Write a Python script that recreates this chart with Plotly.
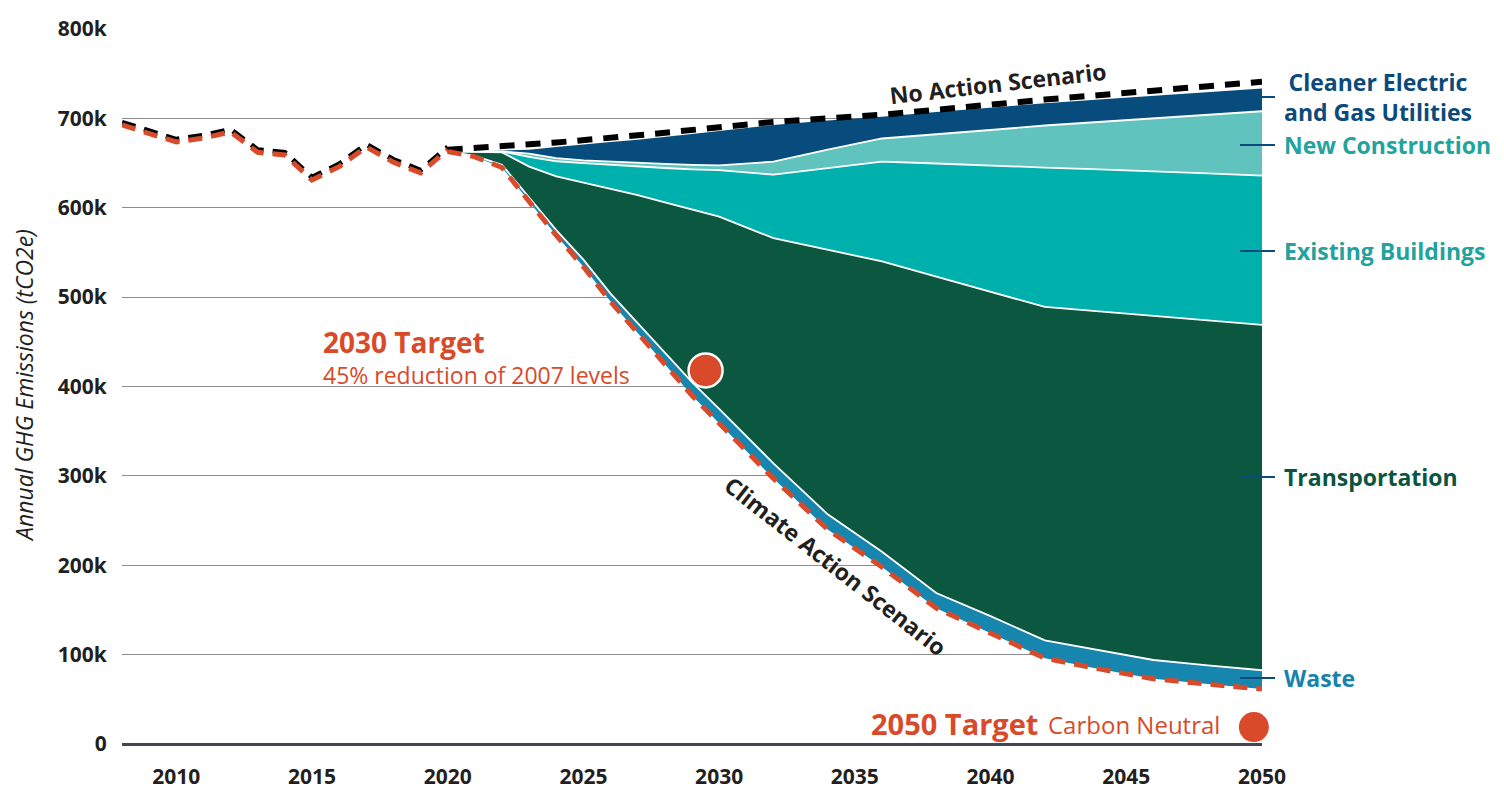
import plotly.graph_objects as go

# ---------------- data (thousand tCO2e) ----------------
HIST_YEARS = [2008, 2009, 2010, 2011, 2012, 2013, 2014, 2015, 2016, 2017, 2018, 2019, 2020]
HIST = [692.6, 683, 673.6, 678, 684.8, 662, 659, 631, 646, 668, 651, 639, 665]

PROJ_YEARS = [2020, 2021, 2022, 2023, 2024, 2025, 2026, 2027, 2028, 2029, 2030,
              2032, 2034, 2036, 2038, 2040, 2042, 2044, 2046, 2048, 2050]
CLIMATE_ACTION = [663, 657, 645, 607, 569, 534, 495, 460, 425, 390, 359,
                  297, 240, 198, 152, 124, 96, 84, 73, 67, 61.5]
WASTE = [0, 1, 3, 5, 6, 8, 9, 11, 13, 15, 16,
         17, 17, 17, 17, 19, 20, 21, 21, 21, 21]
TRANSPORTATION = [0, 4.5, 14, 34, 60, 86, 117, 143, 168, 193, 215,
                  252, 296, 325, 354, 363, 373, 379, 385, 386, 386.5]
EXISTING_BUILDINGS = [0, 0.5, 1, 11, 17, 22, 27, 32, 38.5, 45, 52,
                      71, 91, 111.5, 126.5, 141, 156, 159, 162, 164.5, 167]
NEW_CONSTRUCTION = [0, 0, 0, 3.5, 3.5, 3, 3.5, 4.5, 4.5, 5, 5.5,
                    14.5, 21, 26, 32.5, 40, 47, 53, 59, 65.5, 72]
UTILITIES = [0, 0, 1, 4.5, 12.5, 18, 22, 25.5, 30, 34.5, 38.5,
             41, 32.5, 24.3, 25, 25, 25, 25, 25, 25, 25.5]

NO_ACTION_YEARS = [2020, 2022, 2024, 2027, 2030, 2032, 2036, 2042, 2050]
NO_ACTION = [665, 669, 673, 681, 690, 696, 704, 721, 741]

TARGET_2030 = (2029.5, 418)
TARGET_2050 = (2049.7, 19)

X_TICKS = [2010, 2015, 2020, 2025, 2030, 2035, 2040, 2045, 2050]
X_TICK_TEXT = ["2010", "2015", "2020", "2025", "2030", "2035", "2040", "2045", "2050"]
Y_TICKS = [0, 100, 200, 300, 400, 500, 600, 700, 800]
Y_TICK_TEXT = ["0", "100k", "200k", "300k", "400k", "500k", "600k", "700k", "800k"]

# ---------------- style ----------------
FONT = "Open Sans"
RED = "#d84a2a"
NAVY = "#074c7d"
LIGHT_TEAL = "#60c3bd"
TEAL = "#00b0ac"
GREEN = "#0b5740"
WASTE_BLUE = "#1786ae"
DARK = "#231f20"
SHADOW = 3  # vertical offset of black shadow under historic line

L, R, T, B = 122, 1262, 29, 744
W, H = 1504, 791


def xp(px):
    return (px - L) / (R - L)


def yp(py):
    return (B - py) / (B - T)


fig = go.Figure()

# stacked areas
fig.add_trace(go.Scatter(x=PROJ_YEARS, y=CLIMATE_ACTION, stackgroup="s", mode="lines",
                         line=dict(width=0), fillcolor="rgba(0,0,0,0)", hoverinfo="skip"))
layers = [
    (WASTE, WASTE_BLUE, "Waste"),
    (TRANSPORTATION, GREEN, "Transportation"),
    (EXISTING_BUILDINGS, TEAL, "Existing Buildings"),
    (NEW_CONSTRUCTION, LIGHT_TEAL, "New Construction"),
]
for vals, col, name in layers:
    fig.add_trace(go.Scatter(x=PROJ_YEARS, y=vals, stackgroup="s", mode="lines", name=name,
                             line=dict(width=1.8, color="white"), fillcolor=col))
fig.add_trace(go.Scatter(x=PROJ_YEARS, y=UTILITIES, stackgroup="s", mode="lines",
                         name="Cleaner Electric and Gas Utilities",
                         line=dict(width=0, color=NAVY), fillcolor=NAVY))

# no action dashed line
fig.add_trace(go.Scatter(x=NO_ACTION_YEARS, y=NO_ACTION, mode="lines",
                         line=dict(color="black", width=6, dash="15px,11px")))

# climate action dashed line
fig.add_trace(go.Scatter(x=PROJ_YEARS, y=CLIMATE_ACTION, mode="lines",
                         line=dict(color=RED, width=5, dash="14px,9px")))

# historical line with black shadow
fig.add_trace(go.Scatter(x=HIST_YEARS, y=[v + SHADOW for v in HIST], mode="lines",
                         line=dict(color="black", width=5, dash="14px,9px")))
fig.add_trace(go.Scatter(x=HIST_YEARS, y=HIST, mode="lines",
                         line=dict(color=RED, width=5, dash="14px,9px")))

# targets
fig.add_trace(go.Scatter(x=[TARGET_2030[0]], y=[TARGET_2030[1]], mode="markers", cliponaxis=False,
                         marker=dict(size=34, color=RED, line=dict(color="white", width=2.5))))
fig.add_trace(go.Scatter(x=[TARGET_2050[0]], y=[TARGET_2050[1]], mode="markers", cliponaxis=False,
                         marker=dict(size=30, color=RED, line=dict(width=0))))

ann = []


def add(text, px, py, size, color, xanchor="left", bold=True, angle=0, italic=False):
    t = text
    if bold:
        t = "<b>" + t + "</b>"
    if italic:
        t = "<i>" + t + "</i>"
    ann.append(dict(text=t, x=xp(px), y=yp(py), xref="paper", yref="paper",
                    xanchor=xanchor, yanchor="middle", showarrow=False, textangle=angle,
                    font=dict(family=FONT, size=size, color=color)))


add("Annual GHG Emissions (tCO2e)", 24, 386, 23, DARK, xanchor="center", bold=False, angle=-90, italic=True)
add("No Action Scenario", 998, 83, 23, DARK, xanchor="center", angle=-6.5)
add("Climate Action Scenario", 836, 566, 23, DARK, xanchor="center", angle=38)
add("2030 Target", 321, 342, 28, RED)
add("45% reduction of 2007 levels", 321, 375, 23, RED, bold=False)
add("2050 Target", 1040, 723, 29, RED, xanchor="right")
add("Carbon Neutral", 1046, 724, 24, RED, bold=False)
add("Cleaner Electric<br>and Gas Utilities", 1282, 97, 23, "#0b4a7a")
add("New Construction", 1282, 145, 23, "#22a39d")
add("Existing Buildings", 1282, 251, 23, "#22a39d")
add("Transportation", 1282, 477, 23, "#0b5540")
add("Waste", 1282, 678, 23, "#1782ad")

shapes = []
for x0, py in [(1262, 97), (1240, 145), (1240, 251), (1240, 477), (1240, 678)]:
    shapes.append(dict(type="line", xref="paper", yref="paper", x0=xp(x0), x1=xp(1275),
                       y0=yp(py), y1=yp(py), line=dict(color="#0b4a7a", width=2), layer="above"))

fig.update_layout(
    width=W, height=H,
    margin=dict(l=L, r=W - R, t=T, b=H - B, autoexpand=False),
    paper_bgcolor="white", plot_bgcolor="white",
    showlegend=False,
    font=dict(family=FONT, color=DARK),
    annotations=ann, shapes=shapes,
    xaxis=dict(range=[2008, 2050], tickvals=X_TICKS, ticktext=X_TICK_TEXT, automargin=False,
               showgrid=False, zeroline=False, showline=False,
               ticks="outside", ticklen=14, tickcolor="rgba(0,0,0,0)",
               tickfont=dict(family=FONT, size=21, color=DARK, weight="bold")),
    yaxis=dict(range=[0, 800], tickvals=Y_TICKS, ticktext=Y_TICK_TEXT, automargin=False,
               showgrid=True, gridcolor="#8c8c8c", gridwidth=1,
               zeroline=True, zerolinecolor="#45454f", zerolinewidth=3,
               showline=False, ticks="outside", ticklen=10, tickcolor="rgba(0,0,0,0)",
               tickfont=dict(family=FONT, size=21, color=DARK, weight="bold")),
)

fig.write_html("out.html", config={"displayModeBar": False},
               post_script="document.body.style.margin='0';document.body.style.overflow='hidden';")
